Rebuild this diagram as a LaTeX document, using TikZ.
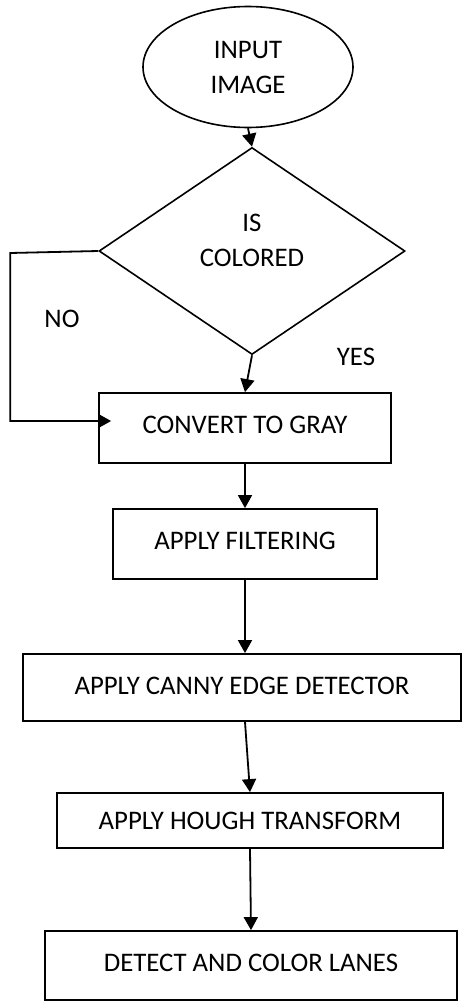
\documentclass[tikz,border=0pt]{standalone}
\usepackage{fontspec}
\setmainfont{Carlito}
\usetikzlibrary{shapes.geometric,arrows.meta,calc}
\begin{document}
\begin{tikzpicture}[x=1pt,y=-1pt,
  every node/.style={font=\fontsize{26.8}{35}\selectfont, inner sep=0pt},
  boxnode/.style={draw, line width=1.8pt, rectangle},
  arr/.style={line width=1.8pt, -{Triangle[length=13pt,width=14pt]}}]
\useasboundingbox (0,0) rectangle (462,1001);
\node[draw, ellipse, line width=1.6pt, minimum width=210pt, minimum height=121pt, align=center] (ell) at (248,67) {INPUT\\IMAGE};
\node[draw, diamond, line width=1.6pt, minimum width=306pt, minimum height=207pt] (dec) at (252,251) {};
\node[align=center] (dectxt) at (252,240) {IS\\COLORED};
\node[boxnode, minimum width=292pt, minimum height=70pt] (gray) at (245,428) {\raisebox{6pt}{CONVERT TO GRAY}};
\node[boxnode, minimum width=264pt, minimum height=70pt] (filt) at (245,544) {\raisebox{6pt}{APPLY FILTERING}};
\node[boxnode, minimum width=438pt, minimum height=67pt] (canny) at (242,687.5) {\raisebox{4pt}{APPLY CANNY EDGE DETECTOR}};
\node[boxnode, minimum width=386pt, minimum height=55pt] (hough) at (250,820.5) {APPLY HOUGH TRANSFORM};
\node[boxnode, minimum width=412pt, minimum height=69pt] (det) at (251,965.5) {\raisebox{5pt}{DETECT AND COLOR LANES}};
\node (no) at (62,319) {NO};
\node (yes) at (356,357) {YES};
\draw[arr] (ell.south) -- (dec.north);
\draw[arr] (dec.west) -- ++(-88,2) |- ([shift={(13,-7)}]gray.west);
\draw[arr] (dec.south) -- (gray.north);
\draw[arr] (gray.south) -- (filt.north);
\draw[arr] (filt.south) -- (filt.south |- canny.north);
\draw[arr] ([xshift=3pt]canny.south) -- (hough.north);
\draw[arr] (hough.south) -- (det.north);
\end{tikzpicture}
\end{document}
